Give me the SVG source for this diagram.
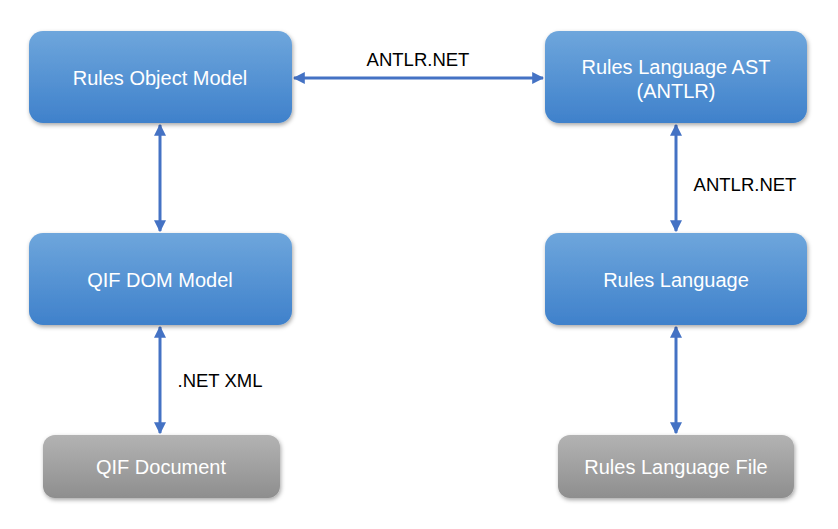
<svg xmlns="http://www.w3.org/2000/svg" width="838" height="529" viewBox="0 0 838 529">
<style>
.lbl{font-family:"Liberation Sans",Arial,sans-serif;font-size:20px;fill:#ffffff;text-anchor:middle}
.cl{font-family:"Liberation Sans",Arial,sans-serif;font-size:18.5px;fill:#000000;text-anchor:middle}
.con{stroke:#4472C4;stroke-width:3;fill:none;marker-start:url(#ah);marker-end:url(#ah)}
</style>
<defs>
<linearGradient id="gb" x1="0" y1="0" x2="0" y2="1"><stop offset="0" stop-color="#6EA6DC"/><stop offset="1" stop-color="#3F81CB"/></linearGradient>
<linearGradient id="gg" x1="0" y1="0" x2="0" y2="1"><stop offset="0" stop-color="#B3B3B3"/><stop offset="1" stop-color="#8E8E8E"/></linearGradient>
<filter id="sh" x="-10%" y="-10%" width="130%" height="140%"><feDropShadow dx="1" dy="2" stdDeviation="2" flood-color="#000" flood-opacity="0.35"/></filter>
<marker id="ah" viewBox="0 0 10 10" refX="9" refY="5" markerWidth="4" markerHeight="4" orient="auto-start-reverse"><path d="M0,0 L10,5 L0,10 z" fill="#4472C4"/></marker>
</defs>
<g id="connectors">
<line class="con" x1="294" y1="78" x2="543" y2="78"/>
<line class="con" x1="160" y1="125" x2="160" y2="231"/>
<line class="con" x1="160" y1="327" x2="160" y2="433"/>
<line class="con" x1="676" y1="125" x2="676" y2="231"/>
<line class="con" x1="676" y1="327" x2="676" y2="433"/>
<text class="cl" x="418" y="66">ANTLR.NET</text>
<text class="cl" x="745" y="191">ANTLR.NET</text>
<text class="cl" x="220" y="387">.NET XML</text>
</g>
<g id="n1"><rect x="29" y="31" width="263" height="92" rx="14" fill="url(#gb)" filter="url(#sh)"/><text class="lbl" x="160" y="85">Rules Object Model</text></g>
<g id="n2"><rect x="545" y="31" width="262" height="92" rx="14" fill="url(#gb)" filter="url(#sh)"/><text class="lbl" x="676" y="74">Rules Language AST</text><text class="lbl" x="676" y="98">(ANTLR)</text></g>
<g id="n3"><rect x="29" y="233" width="263" height="92" rx="14" fill="url(#gb)" filter="url(#sh)"/><text class="lbl" x="160" y="287">QIF DOM Model</text></g>
<g id="n4"><rect x="545" y="233" width="262" height="92" rx="14" fill="url(#gb)" filter="url(#sh)"/><text class="lbl" x="676" y="287">Rules Language</text></g>
<g id="n5"><rect x="43" y="435" width="237" height="63" rx="12" fill="url(#gg)" filter="url(#sh)"/><text class="lbl" x="161" y="474">QIF Document</text></g>
<g id="n6"><rect x="558" y="435" width="236" height="63" rx="12" fill="url(#gg)" filter="url(#sh)"/><text class="lbl" x="676" y="474">Rules Language File</text></g>
</svg>
